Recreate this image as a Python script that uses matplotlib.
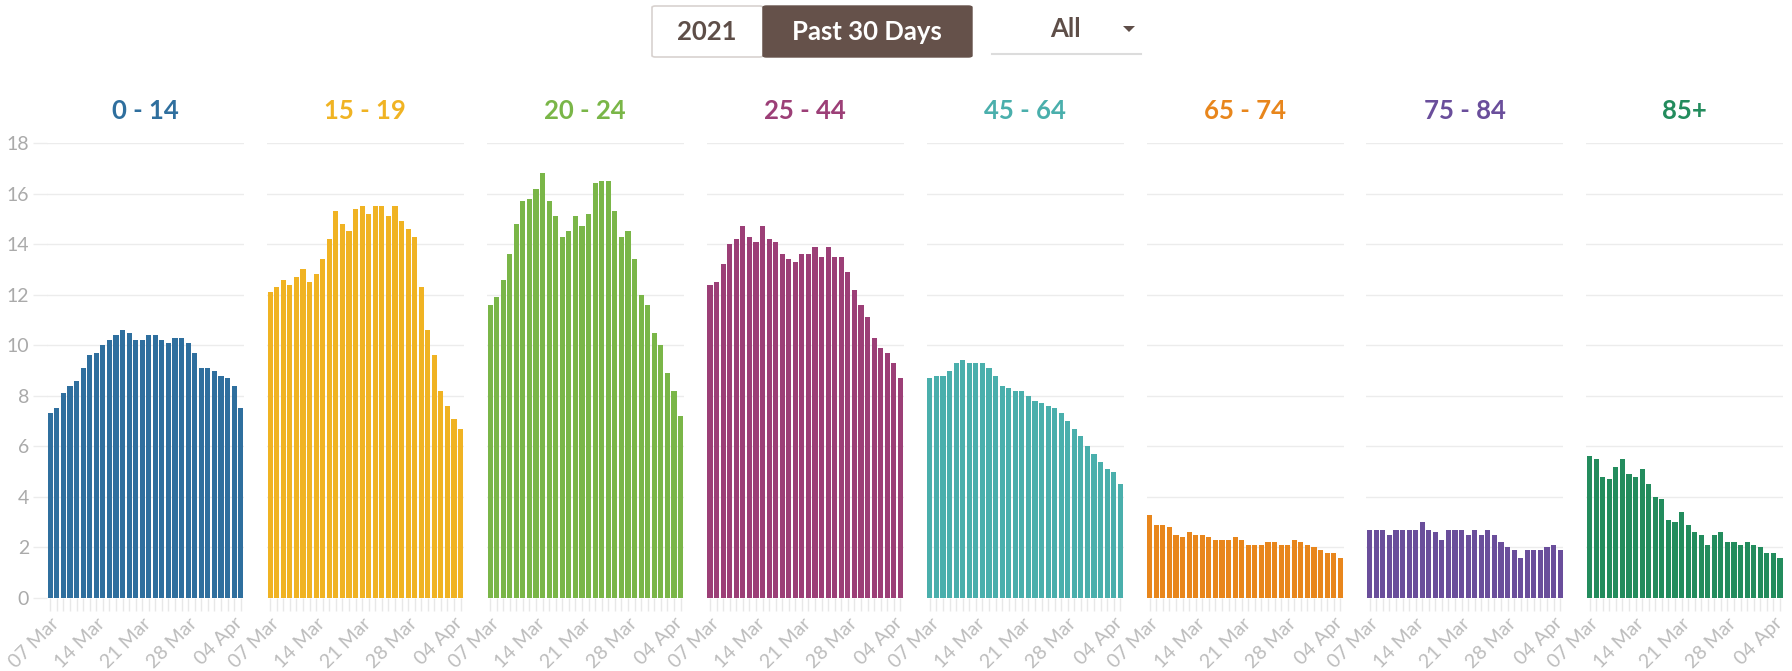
import matplotlib.pyplot as plt
import matplotlib.patches as patches
import pandas as pd

plt.rcParams['font.family'] = ['Lato', 'DejaVu Sans']

days = pd.date_range('2021-03-07', periods=30)
groups = ['0 - 14', '15 - 19', '20 - 24', '25 - 44', '45 - 64', '65 - 74', '75 - 84', '85+']
colors = ['#2f6f9e', '#f0b323', '#7ab648', '#9c3f77', '#4aafac', '#e8861c', '#6a4e9b', '#238c5d']

v_0_14 = [7.3, 7.5, 8.1, 8.4, 8.6, 9.1, 9.6, 9.7, 10.0, 10.2, 10.4, 10.6, 10.5, 10.2, 10.2,
          10.4, 10.4, 10.2, 10.1, 10.3, 10.3, 10.1, 9.7, 9.1, 9.1, 9.0, 8.8, 8.7, 8.4, 7.5]
v_15_19 = [12.1, 12.3, 12.6, 12.4, 12.7, 13.0, 12.5, 12.8, 13.4, 14.2, 15.3, 14.8, 14.5, 15.4, 15.5,
           15.2, 15.5, 15.5, 15.1, 15.5, 14.9, 14.6, 14.3, 12.3, 10.6, 9.6, 8.2, 7.6, 7.1, 6.7]
v_20_24 = [11.6, 11.9, 12.6, 13.6, 14.8, 15.7, 15.8, 16.2, 16.8, 15.7, 15.1, 14.3, 14.5, 15.1, 14.7,
           15.2, 16.4, 16.5, 16.5, 15.3, 14.3, 14.5, 13.4, 12.0, 11.6, 10.5, 10.0, 8.9, 8.2, 7.2]
v_25_44 = [12.4, 12.5, 13.2, 14.0, 14.2, 14.7, 14.3, 14.1, 14.7, 14.2, 14.1, 13.6, 13.4, 13.3, 13.6,
           13.6, 13.9, 13.5, 13.9, 13.5, 13.5, 12.9, 12.2, 11.6, 11.1, 10.3, 9.9, 9.7, 9.3, 8.7]
v_45_64 = [8.7, 8.8, 8.8, 9.0, 9.3, 9.4, 9.3, 9.3, 9.3, 9.1, 8.8, 8.4, 8.3, 8.2, 8.2,
           8.0, 7.8, 7.7, 7.6, 7.5, 7.3, 7.0, 6.7, 6.4, 6.0, 5.7, 5.4, 5.1, 5.0, 4.5]
v_65_74 = [3.3, 2.9, 2.9, 2.8, 2.5, 2.4, 2.6, 2.5, 2.5, 2.4, 2.3, 2.3, 2.3, 2.4, 2.3,
           2.1, 2.1, 2.1, 2.2, 2.2, 2.1, 2.1, 2.3, 2.2, 2.1, 2.0, 1.9, 1.8, 1.8, 1.6]
v_75_84 = [2.7, 2.7, 2.7, 2.5, 2.7, 2.7, 2.7, 2.7, 3.0, 2.7, 2.6, 2.3, 2.7, 2.7, 2.7,
           2.5, 2.7, 2.5, 2.7, 2.5, 2.2, 2.0, 1.9, 1.6, 1.9, 1.9, 1.9, 2.0, 2.1, 1.9]
v_85 = [5.6, 5.5, 4.8, 4.7, 5.2, 5.5, 4.9, 4.8, 5.1, 4.5, 4.0, 3.9, 3.1, 3.0, 3.4,
        2.9, 2.6, 2.5, 2.1, 2.5, 2.6, 2.2, 2.2, 2.1, 2.2, 2.1, 2.0, 1.8, 1.8, 1.6]
series = [v_0_14, v_15_19, v_20_24, v_25_44, v_45_64, v_65_74, v_75_84, v_85]

W, H = 1792, 671
fig = plt.figure(figsize=(W / 100, H / 100), dpi=100)

def fx(px):
    return px / W

def fy(py):
    return 1 - py / H

# top buttons
fig.patches.append(patches.FancyBboxPatch((fx(652), fy(57)), fx(111), 51 / H,
                   boxstyle='round,pad=0,rounding_size=0.002', transform=fig.transFigure,
                   facecolor='white', edgecolor='#d8d2cf', linewidth=1.2))
fig.patches.append(patches.FancyBboxPatch((fx(763), fy(57)), fx(209), 51 / H,
                   boxstyle='round,pad=0,rounding_size=0.002', transform=fig.transFigure,
                   facecolor='#65514a', edgecolor='#65514a', linewidth=1))
fig.text(fx(707), fy(32), '2021', ha='center', va='center', fontsize=18.5, fontweight='bold', color='#5e4e48')
fig.text(fx(867), fy(32), 'Past 30 Days', ha='center', va='center', fontsize=18.5, fontweight='bold', color='white')
fig.text(fx(1065), fy(29), 'All', ha='center', va='center', fontsize=18.5, fontweight='bold', color='#5e4e48')
fig.patches.append(patches.Polygon([(fx(1123), fy(26)), (fx(1135), fy(26)), (fx(1129), fy(32))],
                   closed=True, transform=fig.transFigure, facecolor='#5e4e48', edgecolor='none'))
fig.lines.append(plt.Line2D([fx(992), fx(1141)], [fy(54), fy(54)], transform=fig.transFigure,
                 color='#dcdcdc', linewidth=1.5))

bottom = fy(598)
height = fy(143) - bottom
for i, (name, col, vals) in enumerate(zip(groups, colors, series)):
    left = 47 + 219.9 * i
    ax = fig.add_axes([fx(left), bottom, fx(197), height])
    ax.bar(range(len(days)), vals, width=0.78, color=col, zorder=3)
    ax.set_xlim(-0.5, 29.5)
    ax.set_ylim(0, 18)
    ax.set_yticks(range(0, 19, 2))
    ax.grid(axis='y', color='#ececec', linewidth=1, zorder=0)
    for s in ax.spines.values():
        s.set_visible(False)
    if i == 0:
        ax.tick_params(axis='y', length=10, width=1, color='#ececec', labelcolor='#aaaaaa',
                       labelsize=14, pad=3)
    else:
        ax.tick_params(axis='y', left=False, labelleft=False)
    ax.set_xticks(range(len(days)), minor=True)
    ax.set_xticks(range(0, 30, 7))
    ax.set_xticklabels([d.strftime('%d %b') for d in days[::7]], rotation=45, ha='right',
                       rotation_mode='anchor')
    ax.tick_params(axis='x', which='both', length=9, width=1, color='#e8e8e8')
    ax.tick_params(axis='x', labelcolor='#bcbcbc', labelsize=14, pad=3)
    ax.set_title(name, color=col, fontsize=18.5, fontweight='bold', pad=17)

fig.savefig('out.png', dpi=100)
